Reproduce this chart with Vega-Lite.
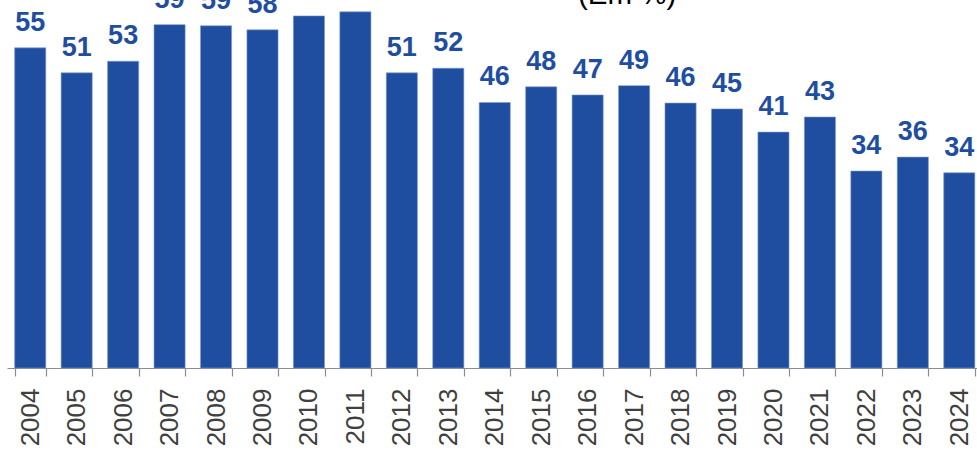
{
  "$schema": "https://vega.github.io/schema/vega-lite/v6.json",
  "autosize": "none",
  "width": 975.5,
  "height": 368,
  "padding": {"left": 7, "top": 0, "right": 0, "bottom": 84},
  "background": "white",
  "title": {
    "text": "(Em %)",
    "anchor": "start",
    "frame": "group",
    "orient": "top",
    "baseline": "alphabetic",
    "offset": 0,
    "dy": 61,
    "dx": 571,
    "font": "Liberation Sans",
    "fontSize": 29.5,
    "fontWeight": "normal",
    "color": "#000000"
  },
  "data": {
    "values": [
      {"year": "2004", "value": 55.1},
      {"year": "2005", "value": 50.8},
      {"year": "2006", "value": 52.8},
      {"year": "2007", "value": 59.1},
      {"year": "2008", "value": 58.9},
      {"year": "2009", "value": 58.2},
      {"year": "2010", "value": 60.6},
      {"year": "2011", "value": 61.3},
      {"year": "2012", "value": 50.8},
      {"year": "2013", "value": 51.6},
      {"year": "2014", "value": 45.7},
      {"year": "2015", "value": 48.4},
      {"year": "2016", "value": 47.0},
      {"year": "2017", "value": 48.6},
      {"year": "2018", "value": 45.6},
      {"year": "2019", "value": 44.6},
      {"year": "2020", "value": 40.6},
      {"year": "2021", "value": 43.2},
      {"year": "2022", "value": 33.9},
      {"year": "2023", "value": 36.3},
      {"year": "2024", "value": 33.6}
    ]
  },
  "encoding": {
    "x": {
      "field": "year",
      "type": "ordinal",
      "scale": {"paddingInner": 0.33, "paddingOuter": 0.165},
      "axis": {
        "title": null,
        "labelAngle": -90,
        "labelFont": "Liberation Sans",
        "labelFontSize": 26,
        "labelColor": "#404040",
        "labelPadding": 12,
        "tickSize": 8,
        "tickColor": "#8c8c8c",
        "tickWidth": 1.2,
        "domainColor": "#8c8c8c",
        "domainWidth": 1.2,
        "tickBand": "extent",
        "grid": false
      }
    },
    "y": {
      "field": "value",
      "type": "quantitative",
      "scale": {"domain": [0, 63.34], "nice": false, "zero": true},
      "axis": null
    }
  },
  "layer": [
    {
      "mark": {"type": "bar", "color": "#1f4ea1", "stroke": "#7f9acb", "strokeWidth": 0.6}
    },
    {
      "mark": {
        "type": "text",
        "baseline": "alphabetic",
        "align": "center",
        "dy": -17,
        "font": "Liberation Sans",
        "fontSize": 27,
        "fontWeight": "bold",
        "color": "#1f4ea1"
      },
      "encoding": {
        "text": {"field": "value", "type": "quantitative", "format": ".0f"}
      }
    }
  ],
  "config": {
    "view": {"stroke": null}
  }
}
